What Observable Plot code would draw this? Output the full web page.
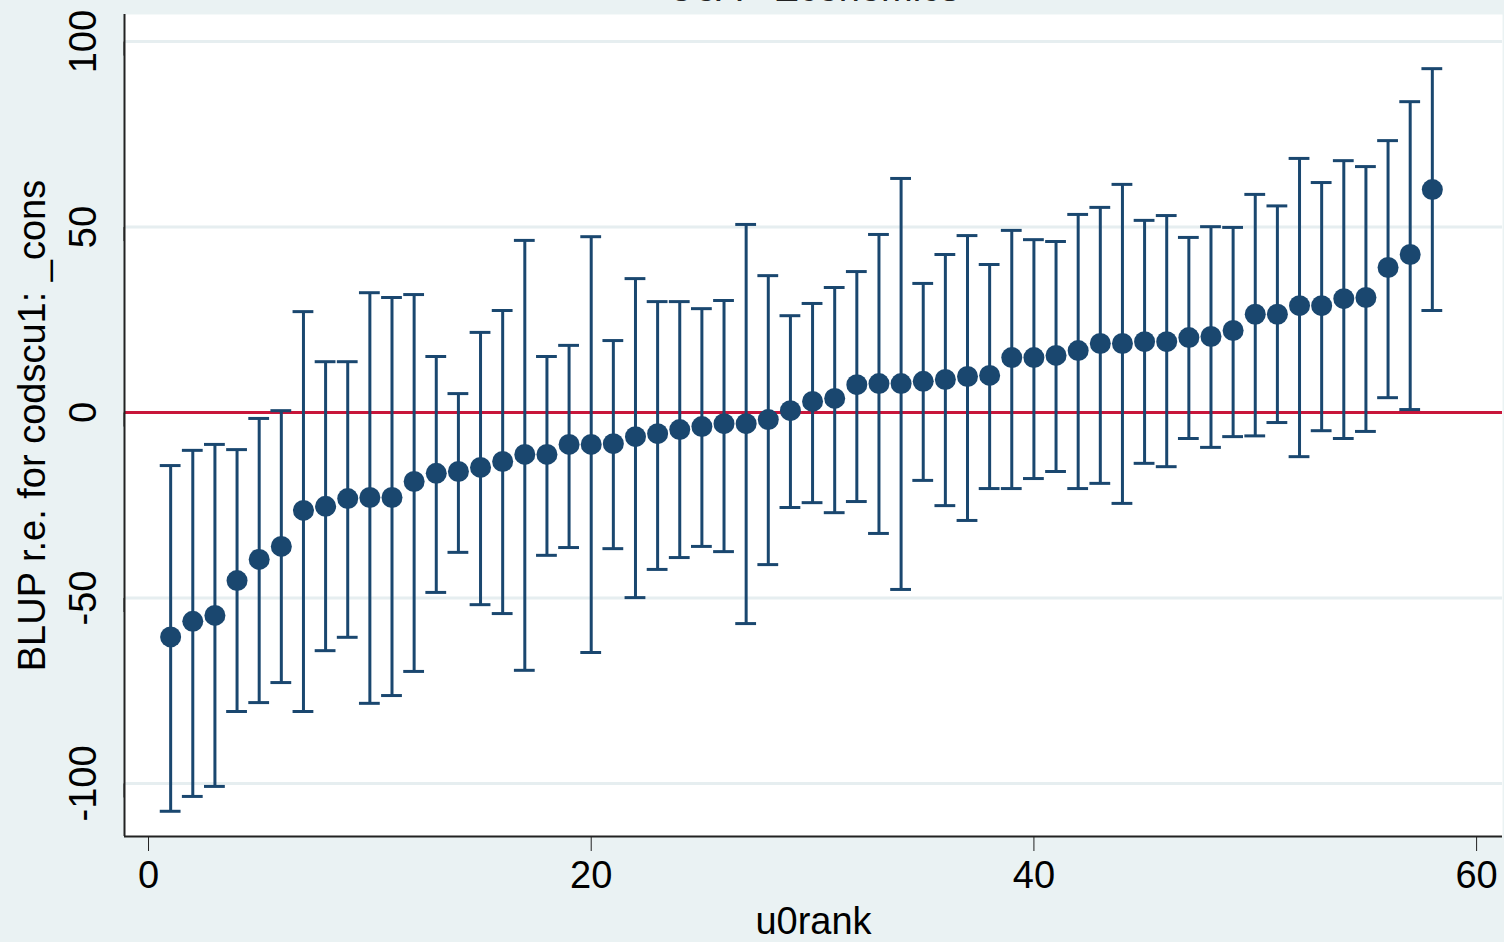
<!DOCTYPE html>
<html>
<head>
<meta charset="utf-8">
<script src="https://cdn.jsdelivr.net/npm/d3@7"></script>
<script src="https://cdn.jsdelivr.net/npm/@observablehq/plot@0.6"></script>
<style>
  html, body { margin: 0; padding: 0; background: #eaf2f3; }
  #chart svg { display: block; }
</style>
</head>
<body>
<div id="chart"></div>
<script>
// ---- data ----
const titleText = "UoA - Economics";
const yLabel = "BLUP r.e. for codscu1: _cons";
const xLabel = "u0rank";

const ranks = [1,2,3,4,5,6,7,8,9,10,11,12,13,14,15,16,17,18,19,20,21,22,23,24,25,26,27,28,29,30,
  31,32,33,34,35,36,37,38,39,40,41,42,43,44,45,46,47,48,49,50,51,52,53,54,55,56,57,58];

const estimate = [-60.5,-56.3,-54.7,-45.3,-39.6,-36.1,-26.4,-25.3,-23.2,-22.9,-22.9,-18.6,-16.4,-15.9,-14.8,
  -13.2,-11.3,-11.3,-8.6,-8.6,-8.4,-6.5,-5.7,-4.6,-3.8,-3.0,-3.0,-1.9,0.5,3.0,
  3.8,7.5,7.8,7.8,8.4,8.9,9.7,10.0,14.8,14.8,15.4,16.7,18.6,18.6,19.1,
  19.1,20.2,20.5,22.1,26.5,26.5,28.8,28.8,30.7,31.0,39.1,42.6,60.1];

const upper = [-14.3,-10.2,-8.6,-10.0,-1.6,0.5,27.2,13.7,13.7,32.3,31.0,31.8,15.1,5.1,21.6,
  27.5,46.4,15.1,18.1,47.4,19.4,36.1,29.9,29.9,28.0,30.2,50.7,36.9,26.1,29.4,
  33.7,38.0,48.0,63.1,34.8,42.6,47.7,39.9,49.1,46.6,46.1,53.4,55.3,61.5,51.8,
  53.1,47.2,50.1,49.9,58.8,55.7,68.5,62.0,67.9,66.3,73.3,83.8,92.7];

const lower = [-107.5,-103.5,-100.8,-80.6,-78.2,-72.8,-80.6,-64.2,-60.6,-78.4,-76.3,-69.8,-48.5,-37.7,-51.8,
  -54.2,-69.5,-38.5,-36.4,-64.7,-36.7,-49.9,-42.3,-39.1,-36.1,-37.5,-56.9,-41.0,-25.6,-24.3,
  -27.0,-24.0,-32.6,-47.7,-18.3,-25.1,-29.1,-20.5,-20.5,-17.8,-15.9,-20.5,-19.1,-24.5,-13.7,
  -14.6,-7.0,-9.4,-6.5,-6.3,-2.7,-11.9,-4.9,-7.0,-5.1,4.0,0.8,27.5];

const xTicks = [0, 20, 40, 60];
const yTicks = [-100, -50, 0, 50, 100];
const yGrid = [-100, -50, 50, 100];
const xDomain = [-1.085, 61.17];
const yDomain = [-114.3, 107.3];

// ---- table for the library ----
const rows = ranks.map((r, i) => ({rank: r, est: estimate[i], hi: upper[i], lo: lower[i]}));

const navy = "#1a476f";
const capHalf = 0.47;

const chart = Plot.plot({
  width: 1504,
  height: 942,
  marginLeft: 124,
  marginRight: 2,
  marginTop: 14,
  marginBottom: 106,
  style: {background: "#eaf2f3", fontFamily: "'Liberation Sans', Arial, sans-serif", color: "#000", overflow: "visible"},
  x: {domain: xDomain},
  y: {domain: yDomain},
  marks: [
    Plot.frame({fill: "white", stroke: "none"}),
    Plot.gridY(yGrid, {stroke: "#e6eef0", strokeOpacity: 1, strokeWidth: 3}),
    Plot.ruleY([0], {stroke: "#c8153a", strokeWidth: 3}),
    Plot.ruleX(rows, {x: "rank", y1: "lo", y2: "hi", stroke: navy, strokeWidth: 3}),
    Plot.ruleY(rows, {y: "hi", x1: d => d.rank - capHalf, x2: d => d.rank + capHalf, stroke: navy, strokeWidth: 3}),
    Plot.ruleY(rows, {y: "lo", x1: d => d.rank - capHalf, x2: d => d.rank + capHalf, stroke: navy, strokeWidth: 3}),
    Plot.dot(rows, {x: "rank", y: "est", r: 10.5, fill: navy, stroke: "none"}),
    Plot.ruleX([xDomain[0]], {stroke: "#222", strokeWidth: 2}),
    Plot.ruleY([yDomain[0]], {stroke: "#222", strokeWidth: 2}),
    Plot.axisY({ticks: yTicks, tickSize: 14, tickPadding: 15, rotate: -90, textAnchor: "middle", lineAnchor: "bottom",
      fontSize: 38, tickFormat: d => String(d),
      label: yLabel, labelAnchor: "center", labelArrow: "none", labelOffset: 106, stroke: "#222"}),
    Plot.axisX({ticks: xTicks, tickSize: 15, tickPadding: 10, fontSize: 38, tickFormat: d => String(d),
      label: xLabel, labelAnchor: "center", labelArrow: "none", labelOffset: 97, stroke: "#222"}),
    Plot.text([titleText], {frameAnchor: "top", dy: -14, lineAnchor: "bottom", fontSize: 38, fill: "#222", text: d => d})
  ]
});

document.getElementById("chart").appendChild(chart);
</script>
</body>
</html>
